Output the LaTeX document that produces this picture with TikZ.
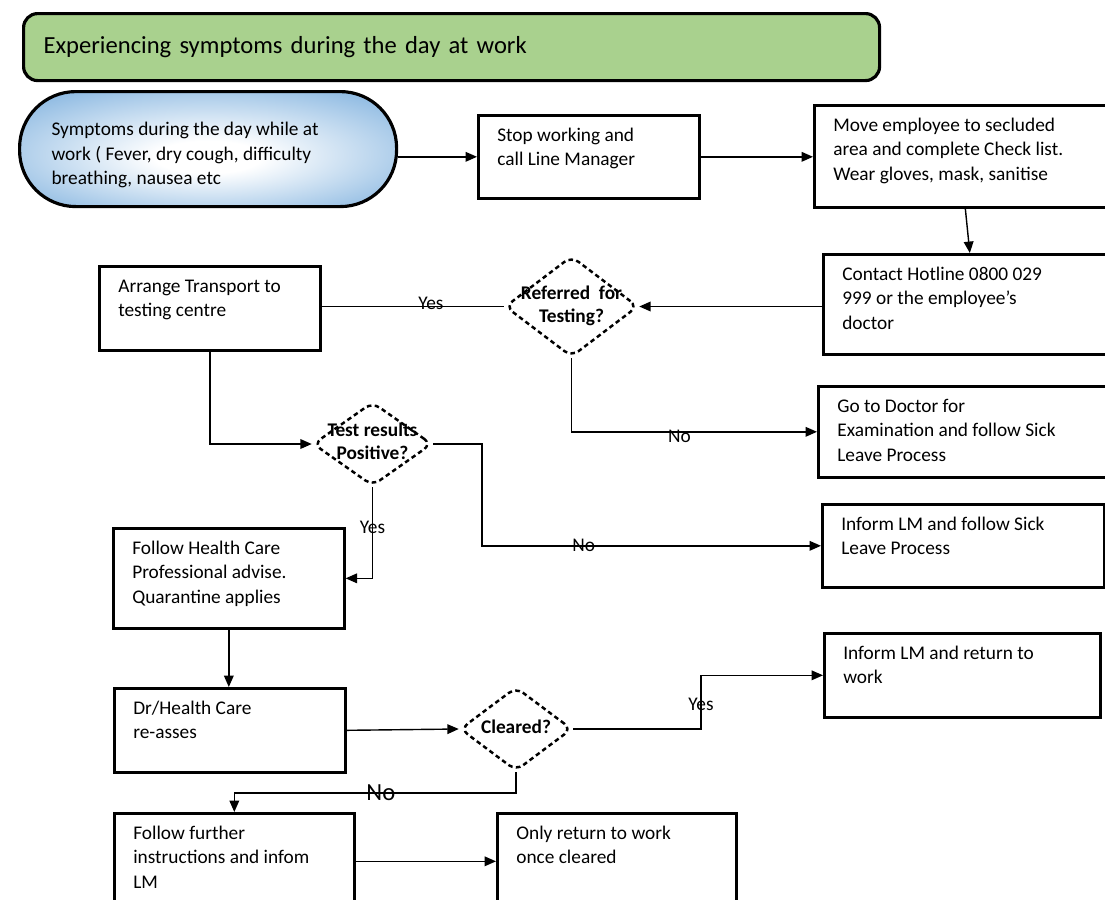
\documentclass[tikz,border=0pt]{standalone}
\usepackage{fontspec}
\setmainfont{Carlito}
\usetikzlibrary{arrows.meta}
\usetikzlibrary{shapes.geometric}

\definecolor{titlegreen}{HTML}{A9D18E}
\definecolor{termblue}{HTML}{5B9BD5}
\newlength\pxu
\setlength\pxu{0.02cm}
\pgfdeclareradialshading{termshade}{\pgfpoint{0bp}{-4bp}}{color(0bp)=(white); color(7bp)=(white); color(44bp)=(termblue); color(50bp)=(termblue)}
% text of a box: width, height, lines (first line pushed down a little)
\newcommand{\boxtxt}[4][5pt]{\parbox[c][#3\pxu][t]{#2\pxu}{\vspace*{#1}\begin{tabular}[t]{@{}l@{}}#4\end{tabular}}}
% text of a decision, it may run over the diamond edge
\newcommand{\dtxt}[1]{\makebox[0pt]{\raisebox{-2.6pt}[0pt][0pt]{\begin{tabular}{@{}c@{}}#1\end{tabular}}}}

\tikzset{
  stepbox/.style={draw, line width=1.5pt, rectangle, anchor=north west,
    inner xsep=19\pxu, inner ysep=0pt, font=\fontsize{11}{13.9}\selectfont},
  decision/.style={diamond, draw, dash pattern=on 2.6pt off 1.9pt, line width=1.4pt,
    rounded corners=5pt, inner sep=0pt, font=\bfseries\fontsize{11}{13}\selectfont},
  conn/.style={draw=black, line width=0.8pt},
  lbl/.style={font=\fontsize{11}{13}\selectfont, inner sep=0pt},
}

\begin{document}
\begin{tikzpicture}[x=0.02cm, y=-0.02cm]

    \path[use as bounding box, fill=white] (0,0) rectangle (1105,899);

    % heading and start
    \node[draw, line width=1.8pt, rounded corners=8pt, fill=titlegreen, anchor=north west,
      minimum width=856\pxu, minimum height=67\pxu, text width=816\pxu, inner xsep=20\pxu,
      align=left, font=\fontsize{14}{17}\selectfont] (title) at (22,12)
      {Experiencing symptoms during the day at work};
    \node[draw, line width=1.8pt, rounded corners=32pt, shading=termshade, anchor=north west,
      inner xsep=32\pxu, inner ysep=0pt, font=\fontsize{11}{13.9}\selectfont] (start) at (18,90)
      {\boxtxt[15.5pt]{313}{115}{Symptoms during the day while at\\work ( Fever, dry cough, difficulty\\breathing, nausea etc}};

    % process boxes, placed by their top left corner
    \node[stepbox] (stop) at (477,114) {\boxtxt{183}{83}{Stop working and\\call Line Manager}};
    \node[stepbox] (move) at (813,104) {\boxtxt{264}{102}{Move employee to secluded\\area and complete Check list.\\Wear gloves, mask, sanitise}};
    \node[stepbox] (contact) at (822,253) {\boxtxt{255}{100}{Contact Hotline 0800 029\\999 or the employee's\\doctor}};
    \node[stepbox] (arrange) at (98,265) {\boxtxt{183}{84}{Arrange Transport to\\testing centre}};
    \node[stepbox] (doctor) at (817,385) {\boxtxt{260}{91}{Go to Doctor for\\Examination and follow Sick\\Leave Process}};
    \node[stepbox] (sick) at (821,503) {\boxtxt{244}{83}{Inform LM and follow Sick\\Leave Process}};
    \node[stepbox] (follow) at (112,527) {\boxtxt{193}{100}{Follow Health Care\\Professional advise.\\Quarantine applies}};
    \node[stepbox] (ret) at (823,632) {\boxtxt{238}{84}{Inform LM and return to\\work}};
    \node[stepbox] (dr) at (113,687) {\boxtxt{193}{84}{Dr/Health Care\\re-asses}};
    \node[stepbox] (further) at (113,812) {\boxtxt{202}{96}{Follow further\\instructions and infom\\LM}};
    \node[stepbox] (only) at (496,812) {\boxtxt{201}{96}{Only return to work\\once cleared}};

    % decisions
    \node[decision, minimum width=133\pxu, minimum height=101\pxu] (refer) at (571.5,306.5) {\dtxt{Referred\ \ for\\Testing?}};
    \node[decision, minimum width=119\pxu, minimum height=84\pxu] (test) at (372.5,444) {\dtxt{Test results\\Positive?}};
    \node[decision, minimum width=112\pxu, minimum height=84\pxu] (cleared) at (516,729) {\dtxt{Cleared?}};

    % bends of the elbow lines
    \coordinate (tno) at (482,0);
    \coordinate (cyes) at (701,0);
    \coordinate (cno) at (0,793);

    \begin{scope}[>={Triangle[length=6.5pt,width=5.5pt]}]
    \draw[conn, ->] (start.east |- stop.west) -- (stop.west);
    \draw[conn, ->] (stop.east) -- (stop.east -| move.west);
    \draw[conn, ->] (move.south) -- (contact.north);
    \draw[conn, ->] (contact.west |- refer.east) -- (refer.east);
    \draw[conn] (refer.west) -- node[lbl, pos=0.4, anchor=base, yshift=-1.5pt] {Yes} (refer.west -| arrange.east);
    \draw[conn, ->] (refer.south) |- node[lbl, pos=0.72, anchor=north, yshift=1.5pt] {No} (doctor.west);
    \draw[conn, ->] (arrange.south) |- (test.west);
    \draw[conn, ->] (test.east) -- (test.east -| tno) |- node[lbl, pos=0.65] {No} (sick.west);
    \draw[conn, ->] (test.south) |- node[lbl, pos=0.22] {Yes} (follow.east);
    \draw[conn, ->] (follow.south) -- (follow.south |- dr.north);
    \draw[conn, ->] (dr.east) -- (cleared.west);
    \draw[conn, ->] (cleared.east) -- (cleared.east -| cyes) |- node[lbl, pos=0.23] {Yes} (ret.west);
    \draw[conn, ->] (cleared.south) -- (cleared.south |- cno) -| node[lbl, pos=0.24, font=\fontsize{14}{16}\selectfont] {No} (further.north);
    \draw[conn, ->] (further.east) -- (only.west);
    \end{scope}

\end{tikzpicture}
\end{document}
